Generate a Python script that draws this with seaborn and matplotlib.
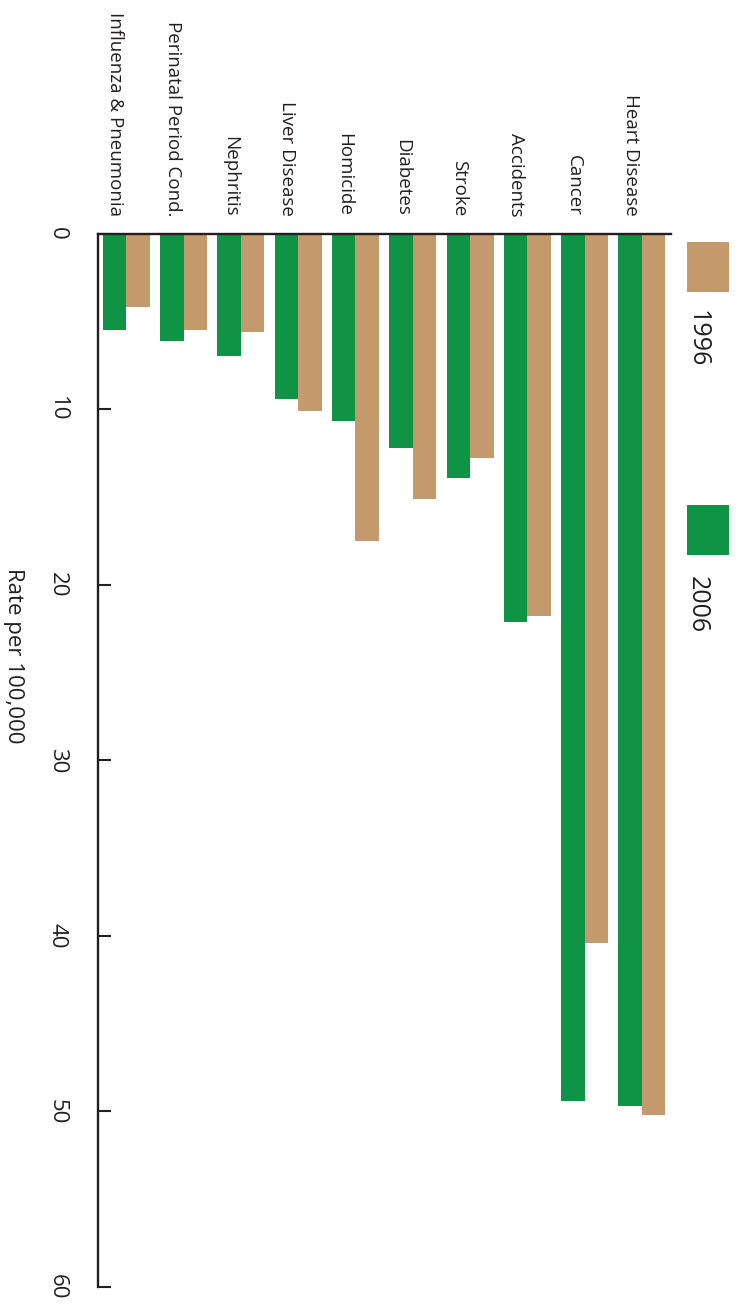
import numpy as np
import pandas as pd
import matplotlib
matplotlib.use('Agg')
import matplotlib.pyplot as plt
from matplotlib.patches import Rectangle
import seaborn as sns

# data (rate per 100,000)
causes = ['Influenza & Pneumonia', 'Perinatal Period Cond.', 'Nephritis', 'Liver Disease',
          'Homicide', 'Diabetes', 'Stroke', 'Accidents', 'Cancer', 'Heart Disease']
rate_2006 = [5.5, 6.1, 7.0, 9.4, 10.7, 12.2, 13.9, 22.1, 49.4, 49.7]
rate_1996 = [4.2, 5.5, 5.6, 10.1, 17.5, 15.1, 12.8, 21.8, 40.4, 50.2]
years = ['2006', '1996']
yticks = [0, 10, 20, 30, 40, 50, 60]

GREEN = '#0f9446'
TAN = '#c49a6c'
INK = '#231f20'

sns.set_theme(style='white')
plt.rcParams['font.family'] = ['Open Sans', 'DejaVu Sans']

df = pd.DataFrame({
    'Cause': causes * 2,
    'Year': ['2006'] * len(causes) + ['1996'] * len(causes),
    'Rate': rate_2006 + rate_1996,
})

W, H = 740, 1308
fig = plt.figure(figsize=(W / 100, H / 100), dpi=100)

# axes box in pixels (chart is drawn turned a quarter turn clockwise)
ax_l, ax_r, ax_t, ax_b = 97.7, 670.5, 233.5, 1287.0
ax = fig.add_axes([ax_l / W, 1 - ax_b / H, (ax_r - ax_l) / W, (ax_b - ax_t) / H])

sns.barplot(data=df, x='Cause', y='Rate', hue='Year', order=causes, hue_order=years,
            palette={'2006': GREEN, '1996': TAN}, saturation=1, width=0.82,
            linewidth=0, legend=False, ax=ax)

ax.set_xlim(-0.5, 9.5)
ax.set_ylim(60, 0)

# category labels along the top, centred over the green bars
ax.xaxis.tick_top()
ax.set_xticks(np.arange(len(causes)) - 0.19)
ax.set_xticklabels(causes, rotation=-90, ha='center', va='bottom', fontsize=13.5, color=INK)
ax.tick_params(axis='x', length=0, pad=12.5)
ax.set_xlabel('')

ax.set_yticks(yticks)
ax.set_yticklabels([str(v) for v in yticks], rotation=-90, va='center', ha='right',
                   fontsize=16, color=INK)
ax.tick_params(axis='y', direction='in', length=9.5, width=1.5, color=INK, pad=21.5, left=True)

ax.set_ylabel('Rate per 100,000', fontsize=16, color=INK)
ax.yaxis.label.set(rotation=-90, ha='center', va='center', rotation_mode='default')
ax.yaxis.set_label_coords((13.5 - ax_l) / (ax_r - ax_l), (ax_b - 655.5) / (ax_b - ax_t))

for side in ['bottom', 'right']:
    ax.spines[side].set_visible(False)
for side in ['left', 'top']:
    ax.spines[side].set_color(INK)
    ax.spines[side].set_linewidth(1.7)
ax.grid(False)

# legend, turned like the rest of the chart
for color, label, top, text_y in [(TAN, '1996', 242, 338.5), (GREEN, '2006', 505, 604.5)]:
    fig.add_artist(Rectangle((687 / W, 1 - (top + 50) / H), 42 / W, 50 / H,
                             transform=fig.transFigure, facecolor=color, edgecolor='none'))
    fig.text(697 / W, 1 - text_y / H, label, rotation=-90, ha='center', va='center',
             fontsize=18, color=INK)

fig.savefig('out.png', dpi=100)
